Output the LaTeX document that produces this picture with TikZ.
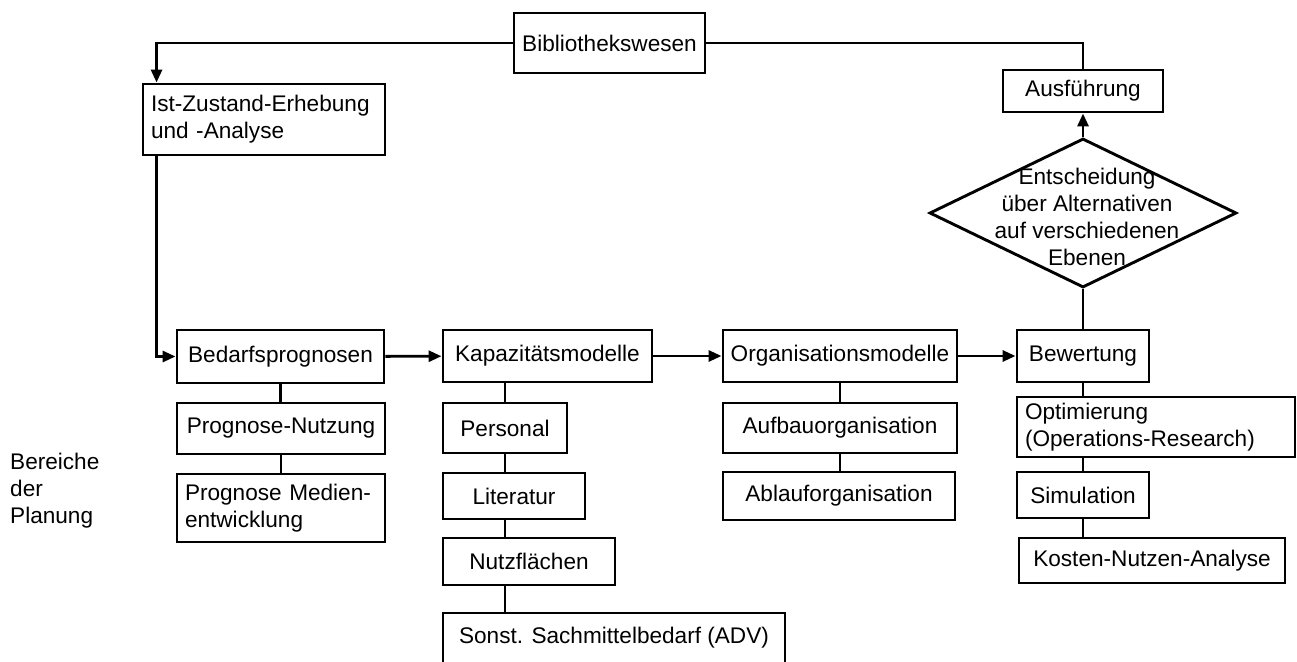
\documentclass[tikz,border=0pt]{standalone}
\usepackage{fontspec}
\setmainfont{Liberation Sans}
\usepackage{tikz}
\usetikzlibrary{arrows.meta, positioning, shapes.geometric}
\newcommand{\planfont}{\fontsize{22.6}{27}\selectfont}
\tikzset{
  blk/.style={draw, line width=2.9pt, font=\planfont, inner sep=0pt},
  blkl/.style={blk, align=left, inner xsep=8pt},
  link/.style={line width=2.9pt},
  flow/.style={link, -{Triangle[length=13pt, width=11pt]}},
}

\begin{document}
\begin{tikzpicture}[x=1pt, y=-1pt]
  \useasboundingbox (0,0) rectangle (1297,661);

  %% Top: Bibliothekswesen, Ist-Zustand, Ausfuehrung
  \node[blk, minimum width=191pt, minimum height=60pt] (bib) at (609.5,43) {Bibliothekswesen};
  \node[blkl, text width=226pt, minimum height=71pt] (ist) at (264,119.5)
    {Ist-Zustand-Erhebung\\und -Analyse};
  \node[blk, minimum width=160pt, minimum height=42pt] (aus) at (1083,91) {Ausführung};

  %% Entscheidung
  \node[diamond, draw, line width=2.9pt, minimum width=307pt, minimum height=149pt,
    inner sep=0pt] (ent) at (1083,213) {};
  \node[font=\planfont, align=center, inner sep=0pt] (enttxt) at (1087,217)
    {Entscheidung\\über Alternativen\\auf verschiedenen\\Ebenen};

  %% Main row
  \node[blk, minimum width=207pt, minimum height=53pt] (bed) at (280.5,356.5) {Bedarfsprognosen};
  \node[blk, minimum width=209pt, minimum height=52pt] (kap) at (547.5,356) {Kapazitätsmodelle};
  \node[blk, minimum width=234pt, minimum height=52pt] (org) at (840,356) {Organisationsmodelle};
  \node[blk, minimum width=132pt, minimum height=52pt] (bew) at (1083,356) {Bewertung};

  %% Bedarfsprognosen column
  \node[blk, minimum width=208pt, minimum height=51pt] (pnu) at (281,428.5) {Prognose-Nutzung};
  \node[blkl, text width=192pt, minimum height=68pt] (pme) at (281,508)
    {Prognose Medien-\\entwicklung};

  %% Kapazitaetsmodelle column
  \node[blk, minimum width=124pt, minimum height=50pt] (per) at (505,428) {Personal};
  \node[blk, minimum width=142pt, minimum height=46pt] (lit) at (514,496) {Literatur};
  \node[blk, minimum width=172pt, minimum height=47pt] (nutz) at (529,561.5) {Nutzflächen};
  \node[blk, minimum width=342pt, minimum height=50pt] (son) at (614,638)
    {Sonst. Sachmittelbedarf (ADV)};

  %% Organisationsmodelle column
  \node[blk, minimum width=234pt, minimum height=50pt] (auf) at (840,428) {Aufbauorganisation};
  \node[blk, minimum width=232pt, minimum height=48pt] (abl) at (839,496) {Ablauforganisation};

  %% Bewertung column
  \node[blkl, text width=262pt, minimum height=60pt] (opt) at (1156,427)
    {Optimierung\\(Operations-Research)};
  \node[blk, minimum width=132pt, minimum height=46pt] (sim) at (1083,495) {Simulation};
  \node[blk, minimum width=266pt, minimum height=45pt] (kos) at (1152,560.5) {Kosten-Nutzen-Analyse};

  \node[font=\planfont, align=left, anchor=west, inner sep=0pt] (ber) at (10,491)
    {Bereiche\\der\\Planung};

  %% Connectors
  \draw[flow] (bib.west) -| ([xshift=15pt]ist.north west);
  \draw[link] (bib.east) -| (aus.north);
  \draw[flow] ([xshift=15pt]ist.south west) |- (bed.west);
  \draw[flow] (bed) -- (kap);
  \draw[flow] (kap) -- (org);
  \draw[flow] (org) -- (bew);
  \draw[link] (bew.north) -- (ent.south);
  \draw[flow] (ent.north) -- (aus.south);

  \draw[link] (bed.south) -- (pnu.north -| bed);
  \draw[link] (pnu.south) -- (pme.north);

  \draw[link] (kap.south -| per) -- (per.north);
  \draw[link] (per.south) -- (lit.north -| per);
  \draw[link] (lit.south -| per) -- (nutz.north -| per);
  \draw[link] (nutz.south -| per) -- (son.north -| per);

  \draw[link] (org.south) -- (auf.north);
  \draw[link] (auf.south) -- (abl.north -| auf);

  \draw[link] (bew.south) -- (opt.north -| bew);
  \draw[link] (opt.south -| bew) -- (sim.north);
  \draw[link] (sim.south) -- (kos.north -| sim);

\end{tikzpicture}
\end{document}
